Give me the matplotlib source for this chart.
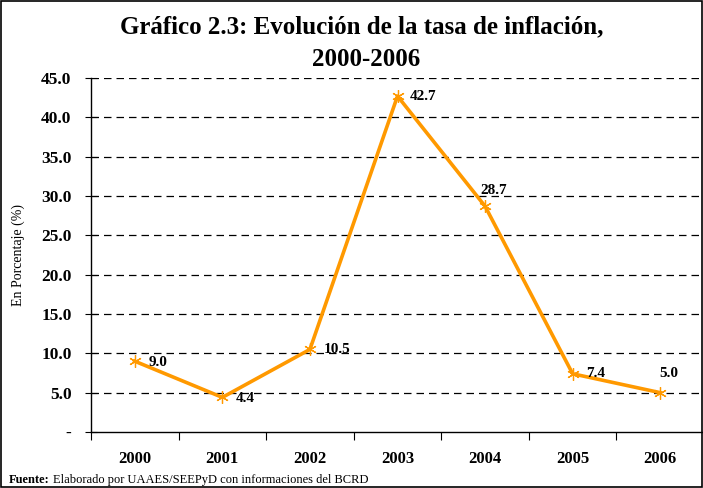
#!/usr/bin/env python3
"""
Gráfico 2.3: evolución de la tasa de inflación 2000-2006
"""
import matplotlib.pyplot as plt
from matplotlib.patches import Rectangle

years = ['2000', '2001', '2002', '2003', '2004', '2005', '2006']
inflation = [9.0, 4.4, 10.5, 42.7, 28.7, 7.4, 5.0]
yticks = [0, 5, 10, 15, 20, 25, 30, 35, 40, 45]

# label offsets in points (dx, dy, ha)
label_pos = [(10, -1, 'left'), (9.5, -1, 'left'), (10, 0, 'left'), (8.5, 0, 'left'),
             (6, 11, 'center'), (10, 0, 'left'), (6.5, 14, 'center')]

plt.rcParams['font.family'] = ['Liberation Serif', 'DejaVu Serif']

fig = plt.figure(figsize=(7.03, 4.88), dpi=100)
ax = fig.add_axes([91 / 703, 1 - 432 / 488, 613 / 703, (432 - 78) / 488])

x = range(len(years))
ax.plot(x, inflation, color='#FF9900', linewidth=2.6,
        marker=(6, 2, 0), markersize=9, markeredgewidth=0.9,
        markeredgecolor='#FF9900', zorder=3)

for i, v in enumerate(inflation):
    dx, dy, ha = label_pos[i]
    ax.annotate(f'{v:.1f}', (i, v), xytext=(dx, dy), textcoords='offset points',
                ha=ha, va='center', fontsize=11, fontweight='bold', zorder=4)

ax.set_xlim(-0.5, len(years) - 0.5)
ax.set_ylim(0, 45)
ax.set_yticks(yticks)
ax.set_yticklabels(['-'] + [f'{t:.1f}' for t in yticks[1:]],
                   fontsize=12.5, fontweight='bold')
ax.set_xticks([i + 0.5 for i in range(-1, len(years))])
ax.set_xticklabels([])
ax.set_xticks(list(x), minor=True)
ax.set_xticklabels(years, minor=True, fontsize=12, fontweight='bold')
ax.tick_params(axis='x', which='major', length=6, direction='out')
ax.tick_params(axis='x', which='minor', length=0, pad=14)
ax.tick_params(axis='y', length=8, direction='inout', pad=10)

for t in yticks[1:]:
    ax.axhline(t, color='black', linestyle=(0, (6, 4)), linewidth=0.9, zorder=1)

for s in ['top', 'right']:
    ax.spines[s].set_visible(False)
ax.spines['left'].set_linewidth(1.0)
ax.spines['bottom'].set_linewidth(1.0)

ax.set_ylabel('En Porcentaje (%)', fontsize=10, labelpad=12)

fig.text(362 / 703, 1 - 27 / 488, 'Gráfico 2.3: Evolución de la tasa de inflación,',
         ha='center', va='center', fontsize=18, fontweight='bold')
fig.text(366 / 703, 1 - 60 / 488, '2000-2006',
         ha='center', va='center', fontsize=18, fontweight='bold')

t1 = fig.text(9 / 703, 1 - 483 / 488, 'Fuente:', fontsize=9, fontweight='bold',
              va='baseline')
fig.canvas.draw()
bb = t1.get_window_extent()
fig.text(bb.x1 / 703 + 0.004, 1 - 483 / 488,
         'Elaborado por UAAES/SEEPyD con informaciones del BCRD',
         fontsize=9, va='baseline')

fig.patches.append(Rectangle((0.002, 0.002), 0.996, 0.996, transform=fig.transFigure,
                             fill=False, edgecolor='black', linewidth=1.2))

plt.savefig('out.png', dpi=100)
